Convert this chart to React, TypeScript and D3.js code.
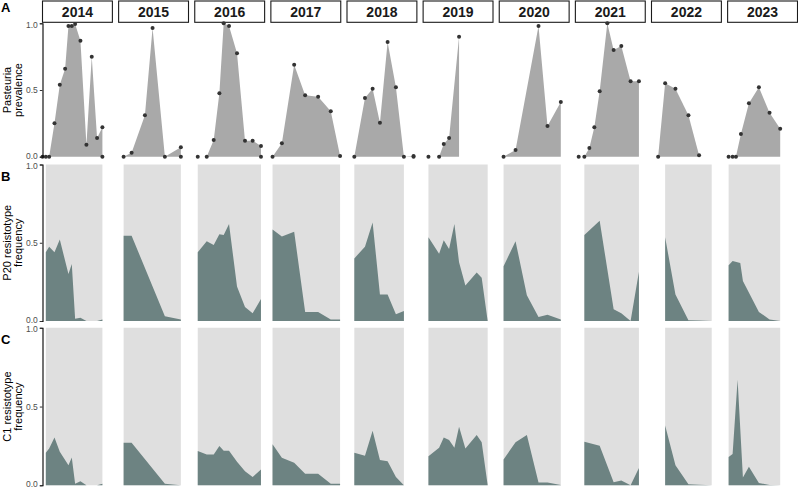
import React, { useEffect, useRef } from "react";
import * as d3 from "d3";

// sampling day (day of year) and values, one list per year
const years = [2014, 2015, 2016, 2017, 2018, 2019, 2020, 2021, 2022, 2023];
const dayDomain = [100, 310];
const yTicks = [0, 0.5, 1];

const prevDays = [
  [100, 110, 120, 136, 152, 168, 178, 188, 198, 214, 232, 248, 264, 280],
  [115, 139, 179, 202, 239, 287],
  [109, 136, 157, 174, 187, 203, 227, 251, 274, 299],
  [105, 133, 170, 203, 242, 280, 308],
  [122, 154, 177, 199, 222, 247, 271, 300],
  [116, 148, 162, 178, 208],
  [113, 149, 218, 245, 285],
  [110, 127, 142, 157, 173, 196, 215, 238, 266, 291],
  [120, 141, 172, 211, 243],
  [103, 115, 125, 140, 164, 194, 226, 258],
];
const prevValues = [
  [0, 0, 0, 0.25, 0.54, 0.66, 0.98, 0.98, 0.995, 0.87, 0.09, 0.75, 0.14, 0.22],
  [0, 0.03, 0.31, 0.965, 0, 0.07],
  [0, 0, 0.125, 0.475, 1.0, 0.98, 0.775, 0.12, 0.12, 0.08],
  [0, 0.1, 0.69, 0.46, 0.45, 0.34, 0.005],
  [0, 0.44, 0.51, 0.255, 0.86, 0.52, 0, 0.005],
  [0, 0, 0.095, 0.14, 0.9],
  [0, 0.05, 0.98, 0.23, 0.41],
  [0, 0, 0.065, 0.22, 0.49, 1.0, 0.8, 0.83, 0.565, 0.565],
  [0, 0.55, 0.51, 0.31, 0.01],
  [0, 0, 0, 0.17, 0.4, 0.52, 0.33, 0.21],
];
// extra samples with zero prevalence on the same day
const prevZeroDays = [[280], [287], [299], [], [300], [], [], [], [], []];

const p20Days = [
  [110, 120, 136, 152, 178, 188, 198, 214, 232, 264, 280],
  [115, 139, 239, 287],
  [109, 136, 157, 174, 187, 203, 227, 251, 274, 299],
  [105, 133, 170, 203, 242, 280, 308],
  [122, 154, 177, 199, 222, 247, 271],
  [116, 148, 162, 178, 194, 208, 227, 261, 276, 294],
  [113, 149, 183, 218, 245, 285],
  [127, 173, 215, 238, 266, 291],
  [141, 172, 211, 243, 281],
  [103, 115, 138, 146, 194, 226, 258],
];
const p20Values = [
  [0.44, 0.475, 0.44, 0.52, 0.3, 0.365, 0.015, 0.02, 0, 0, 0.01],
  [0.545, 0.545, 0.03, 0.01],
  [0.44, 0.51, 0.485, 0.555, 0.55, 0.62, 0.22, 0.09, 0.05, 0.14],
  [0.585, 0.54, 0.57, 0.058, 0.058, 0.01, 0.01],
  [0.4, 0.475, 0.63, 0.17, 0.17, 0.043, 0.064],
  [0.535, 0.43, 0.516, 0.46, 0.62, 0.375, 0.227, 0.31, 0.276, 0],
  [0.35, 0.51, 0.165, 0.026, 0.04, 0.01],
  [0.55, 0.64, 0.075, 0.05, 0, 0.315],
  [0.535, 0.17, 0.005, 0.003, 0],
  [0.357, 0.383, 0.37, 0.255, 0.058, 0.01, 0],
];

const c1Days = [
  [110, 120, 136, 152, 178, 188, 198, 214, 232, 264, 280],
  [115, 139, 239, 287],
  [109, 136, 157, 174, 187, 203, 227, 251, 274, 299],
  [105, 133, 170, 203, 242, 280, 308],
  [122, 154, 177, 199, 222, 247, 271],
  [116, 148, 162, 178, 194, 208, 227, 261, 276, 294],
  [113, 149, 183, 218, 245, 285],
  [127, 173, 215, 238, 266, 291],
  [141, 172, 211, 243, 281],
  [103, 115, 130, 146, 164, 194, 226, 258],
];
const c1Values = [
  [0.206, 0.234, 0.304, 0.213, 0.128, 0.177, 0.01, 0.026, 0, 0, 0.01],
  [0.27, 0.27, 0.01, 0],
  [0.217, 0.196, 0.196, 0.25, 0.219, 0.219, 0.15, 0.09, 0.053, 0.1],
  [0.26, 0.175, 0.143, 0.074, 0.074, 0.01, 0.01],
  [0.206, 0.187, 0.347, 0.16, 0.153, 0.053, 0],
  [0.185, 0.238, 0.304, 0.287, 0.238, 0.372, 0.234, 0.32, 0.274, 0],
  [0.164, 0.274, 0.32, 0.017, 0.017, 0.002],
  [0.277, 0.251, 0.02, 0.03, 0, 0.11],
  [0.379, 0.128, 0.006, 0.004, 0],
  [0.18, 0.198, 0.67, 0.05, 0.117, 0.015, 0.002, 0],
];

const rowTitles = [
  ["Pasteuria", "prevalence"],
  ["P20 resistotype", "frequency"],
  ["C1 resistotype", "frequency"],
];
const rowTags = ["A", "B", "C"];

const FONT = "'Liberation Sans', Arial, Helvetica, sans-serif";

const App = () => {
  const ref = useRef<SVGSVGElement>(null);

  useEffect(() => {
    const svg = d3.select(ref.current);
    svg.selectAll("*").remove();

    const col = d3
      .scaleBand<number>()
      .domain(years)
      .range([42.5, 797.5])
      .paddingInner(0.082);
    const bw = col.bandwidth();

    const yRows = [
      d3.scaleLinear().domain([0, 1]).range([156.7, 23.3]),
      d3.scaleLinear().domain([0, 1]).range([321, 164.5]),
      d3.scaleLinear().domain([0, 1]).range([485.3, 327.8]),
    ];

    const zip = (ds: number[], vs: number[]) => ds.map((d, k) => [d, vs[k]] as [number, number]);

    years.forEach((yr, i) => {
      const left = col(yr)!;
      const x = d3.scaleLinear().domain(dayDomain).range([left, left + bw]);
      const g = svg.append("g");

      // strip
      g.append("rect")
        .attr("x", left)
        .attr("y", 1)
        .attr("width", bw)
        .attr("height", 21.3)
        .attr("fill", "white")
        .attr("stroke", "#1a1a1a")
        .attr("stroke-width", 1.1);
      g.append("text")
        .attr("x", left + bw / 2)
        .attr("y", 16.8)
        .attr("text-anchor", "middle")
        .attr("font-family", FONT)
        .attr("font-weight", "bold")
        .attr("font-size", 14)
        .attr("fill", "#1a1a1a")
        .text(yr);

      // A: prevalence
      const yA = yRows[0];
      const prev = zip(prevDays[i], prevValues[i]);
      const areaA = d3
        .area<[number, number]>()
        .x(d => x(d[0]))
        .y0(yA(0))
        .y1(d => yA(d[1]));
      g.append("path").attr("d", areaA(prev)).attr("fill", "#a9a9a9");
      const pts = prev.concat(prevZeroDays[i].map(d => [d, 0] as [number, number]));
      g.selectAll("circle.pt")
        .data(pts)
        .join("circle")
        .attr("class", "pt")
        .attr("cx", d => x(d[0]))
        .attr("cy", d => yA(d[1]))
        .attr("r", 2)
        .attr("fill", "#333333");

      // B and C: resistotype frequency
      [
        [p20Days[i], p20Values[i], yRows[1]],
        [c1Days[i], c1Values[i], yRows[2]],
      ].forEach(([ds, vs, y]: any) => {
        const data = zip(ds, vs);
        const area = d3
          .area<[number, number]>()
          .x(d => x(d[0]))
          .y0(y(0));
        g.append("path")
          .attr("d", area.y1(y(1))(data))
          .attr("fill", "#dfdfdf");
        g.append("path")
          .attr("d", area.y1(d => y(d[1]))(data))
          .attr("fill", "#6d8382");
      });
    });

    // y axes, titles and tags
    yRows.forEach((y, r) => {
      const ax = svg
        .append("g")
        .attr("transform", "translate(42.5,0)")
        .call(
          d3
            .axisLeft(y)
            .tickValues(yTicks)
            .tickFormat(d3.format(".1f"))
            .tickSizeOuter(0)
            .tickSize(2.7)
            .tickPadding(2)
        );
      ax.select(".domain").attr("stroke", "#000").attr("stroke-width", 1.1);
      ax.selectAll(".tick line").attr("stroke", "#333");
      ax.selectAll<SVGTextElement, number>(".tick text")
        .attr("font-family", FONT)
        .attr("font-size", 8.5)
        .attr("fill", "#4d4d4d")
        // nudge end labels apart so neighbouring rows don't collide
        .attr("y", d => (d === 0 ? -1.2 : d === 1 ? 1.2 : 0));

      const cy = (y.range()[0] + y.range()[1]) / 2;
      rowTitles[r].forEach((t, k) => {
        svg.append("text")
          .attr("transform", `translate(${10.5 + k * 11},${cy}) rotate(-90)`)
          .attr("text-anchor", "middle")
          .attr("font-family", FONT)
          .attr("font-size", 11)
          .attr("fill", "#000")
          .text(t);
      });

      svg.append("text")
        .attr("x", 1)
        .attr("y", [11.5, 181, 343.5][r])
        .attr("font-family", FONT)
        .attr("font-weight", "bold")
        .attr("font-size", 13)
        .attr("fill", "#000")
        .text(rowTags[r]);
    });
  }, []);

  return (
    <svg
      ref={ref}
      width={798}
      height={491}
      style={{ position: "absolute", left: 0, top: 0, background: "white" }}
    />
  );
};

export default App;
